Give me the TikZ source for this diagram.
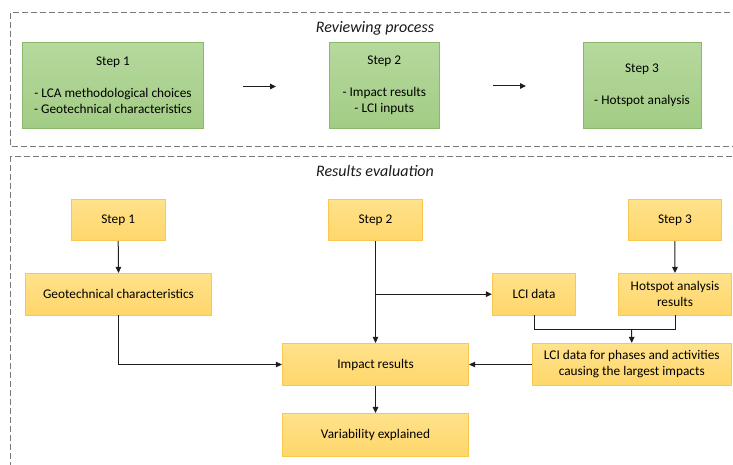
\documentclass[tikz,border=0pt]{standalone}
\usepackage{fontspec}
\setmainfont{Carlito}
\usetikzlibrary{arrows.meta}
\definecolor{gtop}{RGB}{182,217,158}
\definecolor{gbot}{RGB}{162,204,132}
\definecolor{gline}{RGB}{140,184,108}
\definecolor{ytop}{RGB}{255,226,140}
\definecolor{ybot}{RGB}{255,214,106}
\definecolor{yline}{RGB}{248,200,80}
\definecolor{dashgray}{RGB}{120,120,120}
\definecolor{conn}{RGB}{30,30,30}
\tikzset{
  greenbox/.style={draw=gline, line width=0.8pt, top color=gtop, bottom color=gbot,
    align=center, inner sep=0pt, font=\fontsize{13.3}{16}\selectfont, text=black},
  yellowbox/.style={draw=yline, line width=0.8pt, top color=ytop, bottom color=ybot,
    align=center, inner sep=0pt, font=\fontsize{13.3}{16}\selectfont, text=black},
  framebox/.style={draw=dashgray, line width=0.9pt, dash pattern=on 6pt off 3pt},
  titletext/.style={font=\fontsize{16}{19}\selectfont\itshape, text=black!90},
  conline/.style={draw=conn, line width=1pt},
  conarrow/.style={conline, -{Triangle[length=6pt,width=5.5pt]}},
}
\begin{document}
\begin{tikzpicture}[x=1pt, y=-1pt]
\useasboundingbox (0,0) rectangle (733,465);
\begin{scope}
\clip (0,0) rectangle (733,465);
\draw[framebox] (10.7,12.7) rectangle (745,146.7);
\draw[framebox] (10.7,156) rectangle (745,480);
\end{scope}

\node[titletext] (t1) at (375,28.3) {Reviewing process};
\node[titletext] (t2) at (375,170.7) {Results evaluation};

% top row
\node[greenbox, minimum width=180.6pt, minimum height=86pt] (g1) at (113,85.3)
  {Step 1\\[16pt]- LCA methodological choices\\- Geotechnical characteristics};
\node[greenbox, minimum width=110pt, minimum height=86pt] (g2) at (384.3,85.3)
  {Step 2\\[16pt]- Impact results\\- LCI inputs};
\node[greenbox, minimum width=118pt, minimum height=86pt] (g3) at (642,85.3)
  {Step 3\\[16pt]- Hotspot analysis};

\coordinate (a1s) at (243,86.5);
\coordinate (a1e) at (276,86.5);
\coordinate (a2s) at (493,86);
\coordinate (a2e) at (526,86);
\draw[conarrow] (a1s) -- (a1e);
\draw[conarrow] (a2s) -- (a2e);

% bottom
\node[yellowbox, minimum width=93.7pt, minimum height=41.4pt] (y1) at (118.2,220) {Step 1};
\node[yellowbox, minimum width=94.4pt, minimum height=41.4pt] (y2) at (375.5,220) {Step 2};
\node[yellowbox, minimum width=93.7pt, minimum height=41.4pt] (y3) at (674.9,220) {Step 3};

\node[yellowbox, minimum width=186pt, minimum height=41.7pt] (geo) at (118.5,294.2) {Geotechnical characteristics};
\node[yellowbox, minimum width=83.4pt, minimum height=41.7pt] (lci) at (534,294.2) {LCI data};
\node[yellowbox, minimum width=112.3pt, minimum height=41.7pt] (hot) at (675,294.2) {Hotspot analysis\\results};

\node[yellowbox, minimum width=186.4pt, minimum height=42.4pt] (imp) at (375.5,364.5) {Impact results};
\node[yellowbox, minimum width=199pt, minimum height=42.4pt] (phase) at (631.8,364.5)
  {LCI data for phases and activities\\causing the largest impacts};
\node[yellowbox, minimum width=186.4pt, minimum height=42.7pt] (var) at (375.5,434.7) {Variability explained};

\coordinate (mid) at (631.5,329);

\draw[conarrow] (y1.south) -- (geo.north);
\draw[conarrow] (y2.south) -- (imp.north);
\draw[conarrow] (y2.south |- lci.west) -- (lci.west);
\draw[conarrow] (y3.south) -- (hot.north);
\draw[conarrow] (geo.south) |- (imp.west);
\draw[conline] (lci.south) -- (lci.south |- mid) -- (hot.south |- mid) -- (hot.south);
\draw[conarrow] (mid) -- (phase.north);
\draw[conarrow] (phase.west) -- (imp.east);
\draw[conarrow] (imp.south) -- (var.north);
\end{tikzpicture}
\end{document}
